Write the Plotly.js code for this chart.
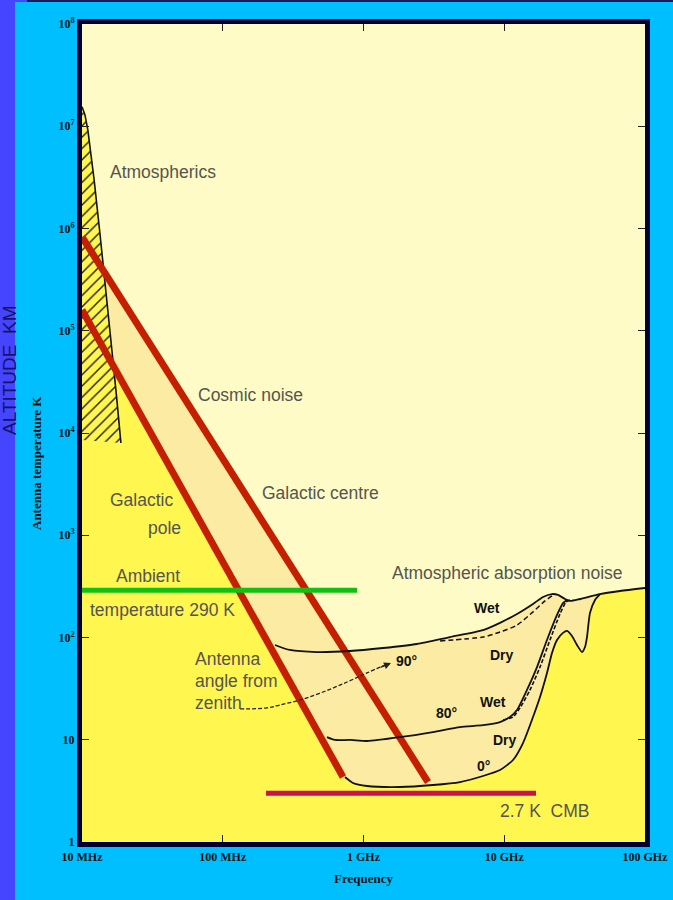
<!DOCTYPE html>
<html>
<head>
<meta charset="utf-8">
<script src="https://cdn.plot.ly/plotly-3.0.1.min.js"></script>
<style>html,body{margin:0;padding:0;background:#00BFFF;}#chart{width:673px;height:900px;}</style>
</head>
<body>
<div id="chart"></div>
<script>
// ---- data (frequency in MHz, antenna temperature in K) ----
const freqTicks = [10, 100, 1000, 10000, 100000];
const freqLabels = ['10 MHz', '100 MHz', '1 GHz', '10 GHz', '100 GHz'];
const tempTicks = [1, 10, 100, 1e3, 1e4, 1e5, 1e6, 1e7, 1e8];
const tempLabels = ['1', '10', '10<sup>2</sup>', '10<sup>3</sup>', '10<sup>4</sup>', '10<sup>5</sup>', '10<sup>6</sup>', '10<sup>7</sup>', '10<sup>8</sup>'];

const galCentreF = [10, 2873];
const galCentreT = [8.26e5, 3.86];
const galPoleF = [10, 715];
const galPoleT = [1.6e5, 4.32];
const ambientF = [10, 900];
const ambientT = [290, 290];
const cmbF = [203, 16810];
const cmbT = [3.0, 3.0];

const hatchF = [10, 10.5, 11.0, 12.2, 13.4, 14.8, 16.3, 17.7, 18.9];
const hatchT = [1.55e7, 1.29e7, 9.2e6, 2.98e6, 9.04e5, 2.5e5, 6.48e4, 2.10e4, 7.98e3];
const hatchBottomF = [10];
const hatchBottomT = [8.55e3];

const zenithWetF = [235, 300, 467, 802, 1376, 2400, 4118, 7063, 9329, 12320, 16010, 18850, 21840, 24090, 27020, 29320, 34530, 47900, 66450, 100000];
const zenithWetT = [84.5, 75.5, 72.1, 73.8, 78.9, 86.4, 101, 118, 139, 170, 213, 249, 266, 261, 238, 228, 238, 266, 285, 305];
const zenithDryF = [3496, 7063, 9329, 12320, 16010, 19480, 21840];
const zenithDryT = [92.5, 101, 113, 132, 178, 228, 255];

const midF = [550, 627, 802, 1059, 1817, 3117, 4849, 7063, 9329, 10990, 12320, 14510, 17090, 20120, 23710, 26150, 27910];
const midT = [10.6, 9.95, 9.95, 9.72, 10.6, 11.9, 13.3, 13.9, 14.9, 16.7, 19.5, 30.7, 51.4, 94.6, 166, 217, 233];
const midWetF = [9797, 11540, 12940, 15240, 17950, 21130, 24890, 27470, 29320];
const midWetT = [15.6, 16.7, 20.5, 30.7, 51.4, 94.6, 170, 222, 233];

const horizonF = [739, 842, 1059, 1817, 3117, 4849, 7063, 9329, 11540, 13590, 16010, 17950, 20120, 21840, 23710, 26150, 27910, 30290, 32880, 35680, 37470, 38710, 40660, 44140, 47900];
const horizonT = [4.32, 3.78, 3.53, 3.45, 3.61, 3.86, 4.42, 5.06, 6.34, 9.29, 16.7, 26.2, 45.0, 70.5, 94.6, 111, 116, 103.5, 84.5, 72.1, 80.7, 101, 174, 233, 266];

const bandJoinF = [739];   // where galactic-centre line meets the upper atmospheric curve
const bandJoinT = [73.4];

const arrowF = [132.6, 206, 255, 354, 516, 764, 1059, 1421];
const arrowT = [20.0, 20.5, 21.9, 24.5, 29.3, 36.7, 45.0, 53.8];

// ---- layout helpers (pixel -> paper) ----
const L = 82, R = 645, T = 24, B = 842;
function px(x) { return (x - L) / (R - L); }
function py(y) { return (B - y) / (B - T); }

const cream = '#FFFBC6', band = '#FCEBA2', yellow = '#FFF650';

const edgeF = freqTicks[freqTicks.length - 1], startF = freqTicks[0], floorT = tempTicks[0];

const traces = [];
// light orange band (below upper envelope)
traces.push({
  x: [galCentreF[0], ...bandJoinF, ...zenithWetF.slice(3), edgeF, startF],
  y: [galCentreT[0], ...bandJoinT, ...zenithWetT.slice(3), floorT, floorT],
  mode: 'lines', fill: 'toself', fillcolor: band, line: { width: 0 }, hoverinfo: 'skip'
});
// yellow (below lower envelope)
traces.push({
  x: [...galPoleF, ...horizonF, ...zenithWetF.slice(-2), edgeF, startF],
  y: [...galPoleT, ...horizonT, ...zenithWetT.slice(-2), floorT, floorT],
  mode: 'lines', fill: 'toself', fillcolor: yellow, line: { width: 0 }, hoverinfo: 'skip'
});
// hatched atmospherics
traces.push({
  x: [...hatchF, ...hatchBottomF],
  y: [...hatchT, ...hatchBottomT],
  mode: 'lines', fill: 'toself', line: { width: 0 },
  fillpattern: { shape: '/', bgcolor: yellow, fgcolor: '#1a1a1a', size: 8, solidity: 0.17 },
  hoverinfo: 'skip'
});
traces.push({ x: hatchF, y: hatchT, mode: 'lines', line: { color: '#111', width: 1.6 }, hoverinfo: 'skip' });
// red galactic lines
traces.push({ x: galCentreF, y: galCentreT, mode: 'lines', line: { color: '#C42000', width: 7 }, hoverinfo: 'skip' });
traces.push({ x: galPoleF, y: galPoleT, mode: 'lines', line: { color: '#C42000', width: 7 }, hoverinfo: 'skip' });
// black atmospheric curves
const blk = { color: '#111', width: 1.8, shape: 'spline', smoothing: 0.6 };
traces.push({ x: zenithWetF, y: zenithWetT, mode: 'lines', line: blk, hoverinfo: 'skip' });
traces.push({ x: zenithDryF, y: zenithDryT, mode: 'lines', line: Object.assign({}, blk, { dash: '5px,3px', width: 1.5 }), hoverinfo: 'skip' });
traces.push({ x: midF, y: midT, mode: 'lines', line: blk, hoverinfo: 'skip' });
traces.push({ x: midWetF, y: midWetT, mode: 'lines', line: Object.assign({}, blk, { dash: '4px,2px', width: 1.6 }), hoverinfo: 'skip' });
traces.push({ x: horizonF, y: horizonT, mode: 'lines', line: blk, hoverinfo: 'skip' });
traces.push({ x: arrowF, y: arrowT, mode: 'lines', line: { color: '#222', width: 1.3, dash: '4px,2px', shape: 'spline' }, hoverinfo: 'skip' });
// ambient + CMB
traces.push({ x: ambientF, y: ambientT, mode: 'lines', line: { color: '#12C012', width: 5 }, hoverinfo: 'skip' });
traces.push({ x: cmbF, y: cmbT, mode: 'lines', line: { color: '#CC1050', width: 5 }, hoverinfo: 'skip' });

const gray = '#555550';
const sans = 'Liberation Sans, Arial, sans-serif';
const serif = 'Liberation Serif, Times New Roman, serif';
function txt(text, x, y, o) {
  o = o || {};
  return {
    text: text, xref: 'paper', yref: 'paper', x: px(x), y: py(y),
    xanchor: o.anchor || 'center', yanchor: 'middle', showarrow: false,
    textangle: o.angle || 0,
    font: { family: o.family || sans, size: o.size || 17.5, color: o.color || gray, weight: o.weight || 'normal' }
  };
}
const bold = { size: 14, color: '#111', weight: 'bold' };

const annotations = [
  txt('Atmospherics', 163, 172),
  txt('Cosmic noise', 250, 395),
  txt('Galactic centre', 320, 493),
  txt('Galactic', 141, 500),
  txt('pole', 164, 528),
  txt('Ambient', 148, 576),
  txt('temperature 290 K', 88, 610, { anchor: 'left' }),
  txt('Atmospheric absorption noise', 507, 573),
  txt('Antenna', 193, 659, { anchor: 'left' }),
  txt('angle from', 193, 681, { anchor: 'left' }),
  txt('zenith', 193, 703, { anchor: 'left' }),
  txt('2.7 K  CMB', 544, 811),
  txt('Wet', 487, 608, bold),
  txt('Dry', 502, 655, bold),
  txt('90°', 406, 661, bold),
  txt('80°', 446, 713, bold),
  txt('Wet', 493, 702, bold),
  txt('Dry', 505, 740, bold),
  txt('0°', 483, 766, bold),
  txt('Antenna temperature K', 36, 463, { angle: -90, family: serif, size: 13, color: '#111', weight: 'bold' }),
  txt('ALTITUDE  KM', 9, 370, { angle: -90, size: 19, color: '#14146e' }),
  {
    text: '', xref: 'paper', yref: 'paper', x: px(391), y: py(663), ax: -12, ay: 5,
    showarrow: true, arrowhead: 2, arrowsize: 1, arrowwidth: 1.4, arrowcolor: '#222'
  }
];

const shapes = [
  { type: 'rect', xref: 'paper', yref: 'paper', x0: px(0), x1: px(15), y0: py(900), y1: py(0), fillcolor: '#4545FF', line: { width: 0 }, layer: 'below' },
  { type: 'rect', xref: 'paper', yref: 'paper', x0: px(0), x1: px(27), y0: py(2), y1: py(0), fillcolor: '#4545FF', line: { width: 0 }, layer: 'below' },
  { type: 'rect', xref: 'paper', yref: 'paper', x0: px(27), x1: px(673), y0: py(2), y1: py(0), fillcolor: '#1A1A5E', line: { width: 0 }, layer: 'below' }
];

const axisCommon = {
  type: 'log', ticks: 'inside', ticklen: 7, tickwidth: 1, tickcolor: '#222',
  showline: true, linewidth: 5, linecolor: '#000033', mirror: 'ticks',
  showgrid: false, zeroline: false,
  tickfont: { family: serif, size: 12, color: '#111', weight: 'bold' }
};

const layout = {
  width: 673, height: 900,
  margin: { l: 82, r: 28, t: 24, b: 58, pad: 0 },
  paper_bgcolor: '#00BFFF', plot_bgcolor: cream,
  showlegend: false,
  xaxis: Object.assign({}, axisCommon, {
    range: [1, 5], tickvals: freqTicks, ticktext: freqLabels,
    title: { text: 'Frequency', font: { family: serif, size: 13, color: '#111', weight: 'bold' }, standoff: 12 }
  }),
  yaxis: Object.assign({}, axisCommon, {
    range: [0, 8], tickvals: tempTicks, ticktext: tempLabels
  }),
  shapes: shapes,
  annotations: annotations
};

Plotly.newPlot('chart', traces, layout, { displayModeBar: false, staticPlot: true });
</script>
</body>
</html>
